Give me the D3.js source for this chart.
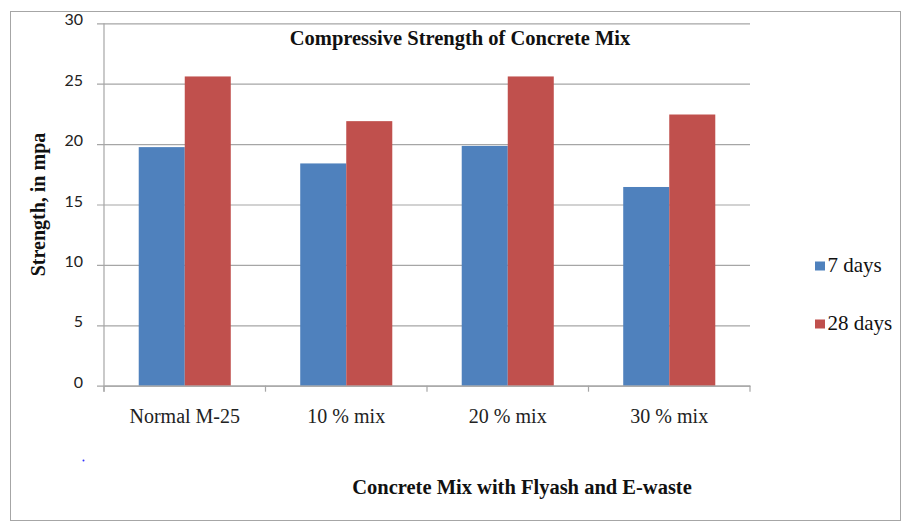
<!DOCTYPE html>
<html>
<head>
<meta charset="utf-8">
<script src="https://cdn.jsdelivr.net/npm/d3@7"></script>
<style>
  html, body { margin: 0; padding: 0; background: #fff; }
  svg { display: block; }
</style>
</head>
<body>
<svg id="chart" width="901" height="523"></svg>
<script>
const categories = ["Normal M-25", "10 % mix", "20 % mix", "30 % mix"];
const seriesNames = ["7 days", "28 days"];
const days7 = [19.75, 18.4, 19.85, 16.45];
const days28 = [25.6, 21.9, 25.6, 22.45];
const yTicks = [0, 5, 10, 15, 20, 25, 30];
const colors = ["#4F81BD", "#C0504D"];

(function () {
const svg = d3.select("#chart");
const pLeft = 104, pRight = 750, pTop = 23.3, pBottom = 385.7;
const serif = "'Liberation Serif', 'Times New Roman', serif";

// outer border
svg.append("rect").attr("x", 10.5).attr("y", 11.5).attr("width", 890).attr("height", 509)
  .attr("fill", "none").attr("stroke", "#a6a6a6").attr("stroke-width", 1);

const y = d3.scaleLinear().domain([0, 30]).range([pBottom, pTop]);
const x0 = d3.scaleBand().domain(categories).range([pLeft, pRight]).paddingInner(0.43).paddingOuter(0.215);
const x1 = d3.scaleBand().domain(seriesNames).range([0, x0.bandwidth()]);
const xTickScale = d3.scaleBand().domain(categories).range([pLeft, pRight]);

// gridlines + y axis ticks
const yAxis = d3.axisLeft(y).tickValues(yTicks).tickSize(0).tickPadding(0);
const gy = svg.append("g").attr("transform", `translate(${pLeft},0)`).call(yAxis);
gy.select(".domain").remove();
gy.selectAll(".tick line").attr("x1", -7).attr("x2", pRight - pLeft)
  .attr("stroke", "#a6a6a6").attr("stroke-width", 1.2);
gy.selectAll(".tick text").attr("font-family", "Lato, 'Open Sans', sans-serif").attr("font-size", 16).attr("fill", "#222")
  .attr("x", -21).attr("dy", "0.1em");

// bars
const data = categories.map((c, i) => ({ cat: c, vals: [days7[i], days28[i]] }));
const groups = svg.append("g").selectAll("g").data(data).join("g")
  .attr("transform", d => `translate(${x0(d.cat)},0)`);
groups.selectAll("rect").data(d => d.vals.map((v, j) => ({ s: seriesNames[j], v, j })))
  .join("rect")
  .attr("x", d => x1(d.s))
  .attr("y", d => y(d.v))
  .attr("width", x1.bandwidth())
  .attr("height", d => y(0) - y(d.v))
  .attr("fill", d => colors[d.j]);

// y axis line
svg.append("line").attr("x1", pLeft).attr("x2", pLeft).attr("y1", pTop).attr("y2", pBottom + 6)
  .attr("stroke", "#a6a6a6").attr("stroke-width", 1.2);

// x axis
const xAxis = d3.axisBottom(xTickScale).tickSize(0).tickPadding(0);
const gx = svg.append("g").attr("transform", `translate(0,${pBottom})`).call(xAxis);
gx.select(".domain").attr("stroke", "#a6a6a6").attr("stroke-width", 1.2);
gx.selectAll(".tick text").attr("font-family", serif).attr("font-size", 20).attr("fill", "#222")
  .attr("y", 37).attr("dy", null);
// category boundary ticks
const bounds = categories.map(c => xTickScale(c)).concat([pRight]);
svg.append("g").selectAll("line").data(bounds).join("line")
  .attr("x1", d => d).attr("x2", d => d).attr("y1", pBottom).attr("y2", pBottom + 6)
  .attr("stroke", "#a6a6a6").attr("stroke-width", 1.2);

// title
svg.append("text").attr("x", 460).attr("y", 45).attr("text-anchor", "middle")
  .attr("font-family", serif).attr("font-weight", "bold").attr("font-size", 20.5)
  .attr("fill", "#111").text("Compressive Strength of Concrete Mix");

// y axis title
svg.append("text").attr("transform", "translate(44.5,204.5) rotate(-90)").attr("text-anchor", "middle")
  .attr("font-family", serif).attr("font-weight", "bold").attr("font-size", 20)
  .attr("fill", "#111").text("Strength, in mpa");

// x axis title
svg.append("text").attr("x", 522).attr("y", 494).attr("text-anchor", "middle")
  .attr("font-family", serif).attr("font-weight", "bold").attr("font-size", 20.5)
  .attr("fill", "#111").text("Concrete Mix with Flyash and E-waste");

// legend
const legendY = [266, 324];
const lg = svg.append("g").selectAll("g").data(seriesNames).join("g")
  .attr("transform", (d, i) => `translate(815,${legendY[i]})`);
lg.append("rect").attr("x", 0).attr("y", -4.5).attr("width", 10).attr("height", 9).attr("fill", (d, i) => colors[i]);
lg.append("text").attr("x", 12.5).attr("y", 6)
  .attr("font-family", serif).attr("font-size", 21)
  .attr("fill", "#111").text(d => d);

// small stray dot
svg.append("circle").attr("cx", 83.5).attr("cy", 460.5).attr("r", 1).attr("fill", "#3030ff");
})();
</script>
</body>
</html>
